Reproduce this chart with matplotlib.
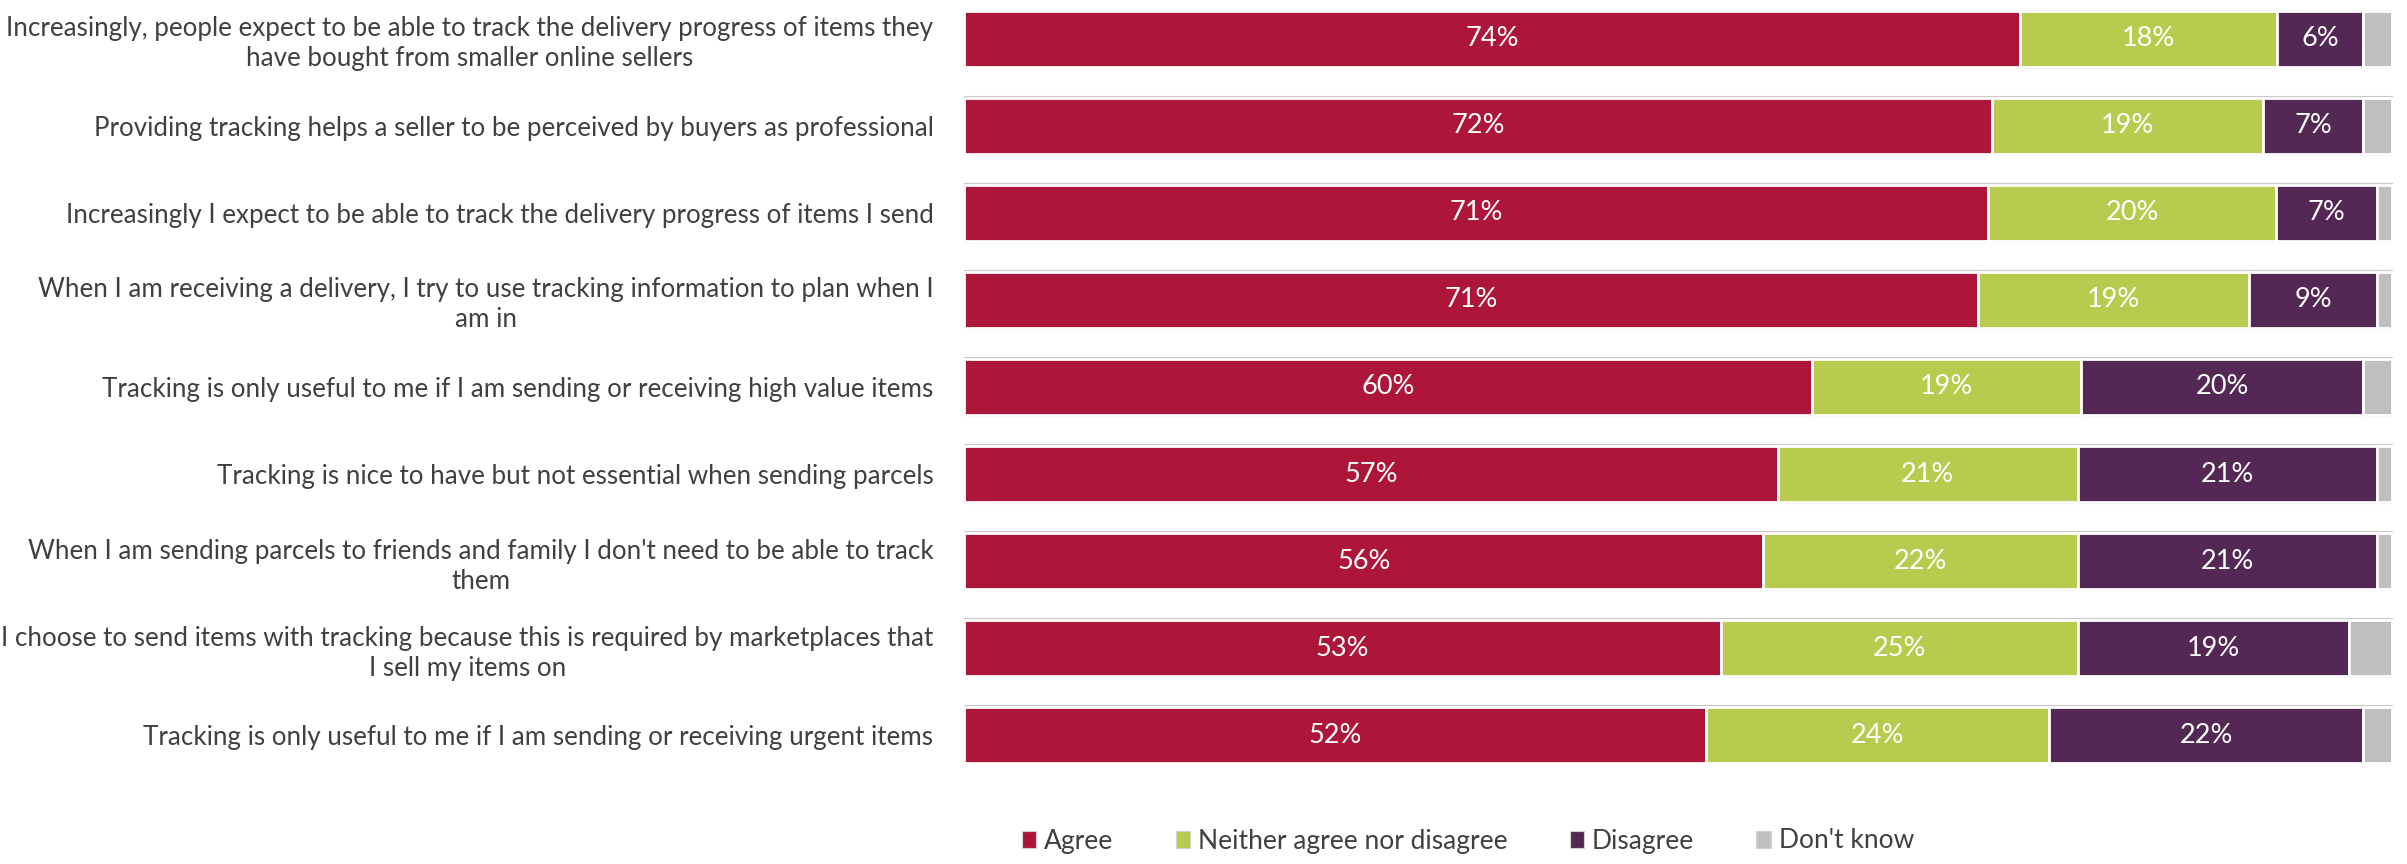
import matplotlib.pyplot as plt
import numpy as np
from matplotlib.patches import Patch

# Survey statements, top to bottom
statements = [
    "Increasingly, people expect to be able to track the delivery progress of items they\nhave bought from smaller online sellers",
    "Providing tracking helps a seller to be perceived by buyers as professional",
    "Increasingly I expect to be able to track the delivery progress of items I send",
    "When I am receiving a delivery, I try to use tracking information to plan when I\nam in",
    "Tracking is only useful to me if I am sending or receiving high value items",
    "Tracking is nice to have but not essential when sending parcels",
    "When I am sending parcels to friends and family I don't need to be able to track\nthem",
    "I choose to send items with tracking because this is required by marketplaces that\nI sell my items on",
    "Tracking is only useful to me if I am sending or receiving urgent items",
]

agree = [74, 72, 71, 71, 60, 57, 56, 53, 52]
neither = [18, 19, 20, 19, 19, 21, 22, 25, 24]
disagree = [6, 7, 7, 9, 20, 21, 21, 19, 22]
dont_know = [2, 2, 1, 1, 2, 1, 1, 3, 2]

series_names = ["Agree", "Neither agree nor disagree", "Disagree", "Don't know"]
colors = ["#AD1639", "#B8CB4E", "#532854", "#BFBFBF"]

plt.rcParams["font.family"] = ["Lato", "DejaVu Sans"]

data = np.array([agree, neither, disagree, dont_know], dtype=float)
totals = data.sum(axis=0)
shares = data / totals  # 100% stacked

fig = plt.figure(figsize=(24.07, 8.64), dpi=100)
ax = fig.add_axes([964 / 2407, 100 / 864, (2393 - 964) / 2407, 754 / 864])

y = np.arange(len(statements))
bar_h = 0.64

# light grey outline around each whole bar
ax.barh(y, shares.sum(axis=0), height=bar_h + 0.02, color="white",
        edgecolor="#C9C9C9", linewidth=1.5, zorder=1)

left = np.zeros(len(statements))
for i, (name, col) in enumerate(zip(series_names, colors)):
    bars = ax.barh(y, shares[i], left=left, height=bar_h, color=col,
                   edgecolor="white", linewidth=2, label=name, zorder=2)
    if i < 3:
        ax.bar_label(bars, labels=[f"{int(v)}%" for v in data[i]],
                     label_type="center", color="white", fontsize=19.5)
    left += shares[i]

ax.set_xlim(0, 1.001)
ax.set_ylim(len(statements) - 1 + 0.3333, -0.3333)
ax.set_yticks(y)
ax.set_yticklabels(statements, fontsize=18.7, color="#404040")
for lbl in ax.get_yticklabels():
    lbl.set_multialignment("center")
    lbl.set_linespacing(1.25)
ax.tick_params(axis="y", length=0, pad=22)
ax.set_xticks([])
for s in ax.spines.values():
    s.set_visible(False)

handles = [Patch(facecolor=c, edgecolor="#D0D0D0", linewidth=0.8) for c in colors]
fig.legend(handles, series_names, loc="center", bbox_to_anchor=(1468 / 2407, 23 / 864),
           ncol=4, frameon=False, fontsize=19, handlelength=0.55, handleheight=0.6,
           handletextpad=0.3, columnspacing=2.35, labelcolor="#404040")

fig.savefig("out.png", dpi=100)
